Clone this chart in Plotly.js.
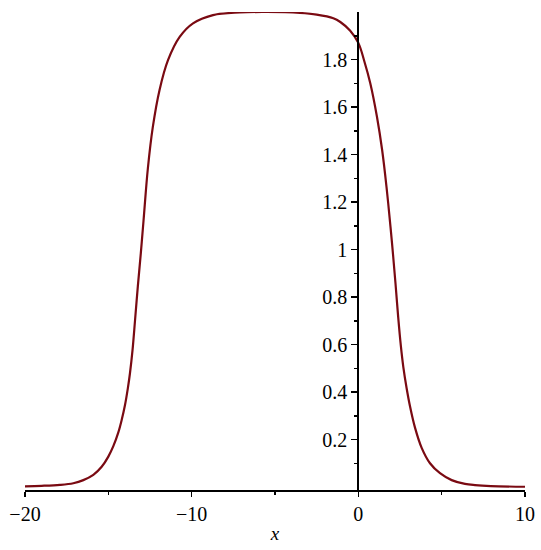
<!DOCTYPE html>
<html>
<head>
<meta charset="utf-8">
<script src="https://cdn.plot.ly/plotly-3.0.1.min.js"></script>
<style>html,body{margin:0;padding:0;background:#fff;}#chart{width:541px;height:550px;}</style>
</head>
<body>
<div id="chart"></div>
<script>
// Values
const xValues = [-20, -19, -17.9, -17.1, -16.5, -15.9, -15.4, -15.0, -14.7, -14.4, -14.2, -14.0, -13.83, -13.7, -13.55, -13.4, -13.23, -13.05, -12.89, -12.63, -12.33, -11.93, -11.42, -10.72, -9.92, -8.72, -7.11, -5.5, -3.5, -2.5, -1.5, -1.08, -0.5, 0, 0.35, 0.72, 1.12, 1.43, 1.69, 1.93, 2.08, 2.23, 2.39, 2.55, 2.70, 2.90, 3.10, 3.40, 3.80, 4.30, 4.90, 5.60, 6.40, 7.0, 7.95, 10];
const yValues = [0.003, 0.005, 0.009, 0.016, 0.029, 0.051, 0.085, 0.128, 0.172, 0.230, 0.282, 0.345, 0.415, 0.480, 0.575, 0.700, 0.845, 0.985, 1.120, 1.340, 1.516, 1.671, 1.797, 1.895, 1.952, 1.987, 1.998, 2.0, 1.996, 1.989, 1.974, 1.958, 1.922, 1.870, 1.795, 1.699, 1.558, 1.418, 1.264, 1.095, 0.98, 0.857, 0.716, 0.595, 0.505, 0.415, 0.340, 0.250, 0.165, 0.100, 0.058, 0.029, 0.013, 0.008, 0.004, 0.001];

const xMajorTicks = [-20, -10, 0, 10];
const xMajorLabels = ["\u221220", "\u221210", "0", "10"];
const xMinorTicks = [-15, -5, 5];
const yMajorTicks = [0.2, 0.4, 0.6, 0.8, 1, 1.2, 1.4, 1.6, 1.8];
const yMajorLabels = ["0.2", "0.4", "0.6", "0.8", "1", "1.2", "1.4", "1.6", "1.8"];
const yMinorTicks = [0.1, 0.3, 0.5, 0.7, 0.9, 1.1, 1.3, 1.5, 1.7, 1.9];

const serif = "Liberation Serif";

const trace = {
  x: xValues, y: yValues, type: 'scatter', mode: 'lines',
  line: {color: '#7a0a12', width: 2.2, shape: 'spline', smoothing: 1},
  hoverinfo: 'skip'
};

const layout = {
  width: 541, height: 550,
  margin: {l: 25, r: 16, t: 12, b: 60},
  paper_bgcolor: '#fff', plot_bgcolor: '#fff',
  showlegend: false,
  font: {family: serif, size: 20, color: '#000'},
  xaxis: {
    range: [-20, 10], showgrid: false, zeroline: false,
    showline: true, linecolor: '#000', linewidth: 2,
    tickmode: 'array', tickvals: xMajorTicks, ticktext: xMajorLabels,
    ticks: 'outside', ticklen: 5, tickwidth: 1.5, tickcolor: '#000',
    minor: {tickmode: 'array', tickvals: xMinorTicks, ticks: 'outside', ticklen: 3, tickwidth: 1.5, tickcolor: '#000'},
    tickfont: {family: serif, size: 20, color: '#000'},
    title: {text: 'x', font: {family: serif, size: 19, color: '#000', style: 'italic'}, standoff: 3},
    fixedrange: true
  },
  yaxis: {
    range: [-0.0126, 2.0], showgrid: false, zeroline: false,
    anchor: 'free', position: 2/3,
    showline: true, linecolor: '#000', linewidth: 2,
    tickmode: 'array', tickvals: yMajorTicks, ticktext: yMajorLabels,
    ticks: 'outside', ticklen: 6, tickwidth: 1.5, tickcolor: '#000',
    minor: {tickmode: 'array', tickvals: yMinorTicks, ticks: 'outside', ticklen: 3, tickwidth: 1.5, tickcolor: '#000'},
    tickfont: {family: serif, size: 20, color: '#000'},
    fixedrange: true
  }
};

Plotly.newPlot('chart', [trace], layout, {staticPlot: true, displayModeBar: false});
</script>
</body>
</html>
